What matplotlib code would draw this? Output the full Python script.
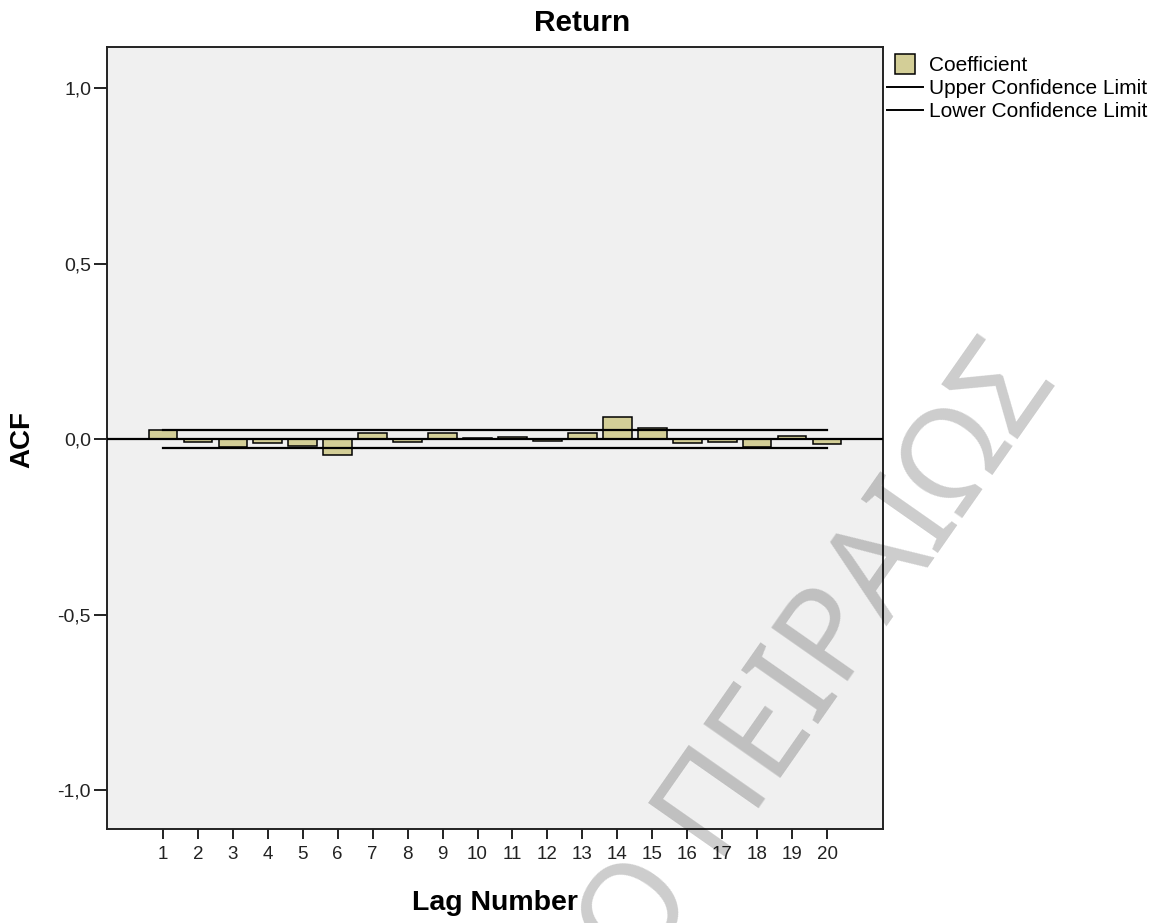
import numpy as np
import matplotlib
matplotlib.use("Agg")
import matplotlib.pyplot as plt
from matplotlib.lines import Line2D

# Data (ACF of Return)
lags = np.arange(1, 21)
acf = [0.025, -0.008, -0.022, -0.012, -0.019, -0.046, 0.018, -0.009, 0.016, 0.004,
       0.005, -0.005, 0.017, 0.062, 0.031, -0.010, -0.008, -0.023, 0.009, -0.014]
upper = [0.025] * 20
lower = [-0.025] * 20
yticks = [-1.0, -0.5, 0.0, 0.5, 1.0]
ytick_labels = ["-1,0", "-0,5", "0,0", "0,5", "1,0"]

plt.rcParams['font.family'] = ['Liberation Sans', 'DejaVu Sans']

W, H = 1158, 923
fig = plt.figure(figsize=(W / 100, H / 100), dpi=100)
ax = fig.add_axes([107 / W, 1 - 829 / H, (883 - 107) / W, (829 - 47) / H])
ax.set_facecolor('#f0f0f0')

bar_color = '#d3ce97'
ax.bar(lags, acf, width=0.82, color=bar_color, edgecolor='black', linewidth=1.1, zorder=2)
ax.plot(lags, upper, color='black', linewidth=1.6, zorder=3)
ax.plot(lags, lower, color='black', linewidth=1.6, zorder=3)
ax.axhline(0, color='black', linewidth=1.6, zorder=3)

ax.set_xlim(-0.6, 21.6)
ax.set_ylim(-1.111, 1.117)
ax.set_xticks(lags)
ax.set_xticklabels([str(l) for l in lags])
ax.set_yticks(yticks)
ax.set_yticklabels(ytick_labels)
ax.tick_params(axis='y', length=9.5, width=1.4, pad=2, labelsize=14, colors='#222222')
ax.tick_params(axis='x', length=7.2, width=1.4, pad=5, labelsize=13.5, colors='#222222')
for s in ax.spines.values():
    s.set_linewidth(1.4)
    s.set_color('#222222')

fig.text(582 / W, 1 - 23 / H, 'Return', ha='center', va='center', fontsize=21.5, fontweight='bold')
fig.text(495 / W, 1 - 903 / H, 'Lag Number', ha='center', va='center', fontsize=20.5, fontweight='bold')
fig.text(22 / W, 1 - 440 / H, 'ACF', ha='center', va='center', fontsize=20, fontweight='bold', rotation=90)

handles = [
    Line2D([], [], linestyle='none', marker='s', markersize=14, markerfacecolor=bar_color,
           markeredgecolor='black', markeredgewidth=1.1),
    Line2D([], [], color='black', linewidth=1.4),
    Line2D([], [], color='black', linewidth=1.4),
]
fig.legend(handles, ['Coefficient', 'Upper Confidence Limit', 'Lower Confidence Limit'],
           loc='upper left', bbox_to_anchor=(887 / W, 1 - 56 / H), frameon=False,
           fontsize=15, handlelength=1.75, handletextpad=0.28, labelspacing=0.2,
           borderpad=0, borderaxespad=0)

# watermark
fig.text(1031 / W, 1 - 362 / H, 'ΠΑΝΕΠΙΣΤΗΜΙΟ ΠΕΙΡΑΙΩΣ', ha='right', va='center',
         rotation=55, rotation_mode='anchor', fontsize=95, family='Noto Sans',
         color='black', alpha=0.2, zorder=10)

fig.savefig('out.png', dpi=100)
